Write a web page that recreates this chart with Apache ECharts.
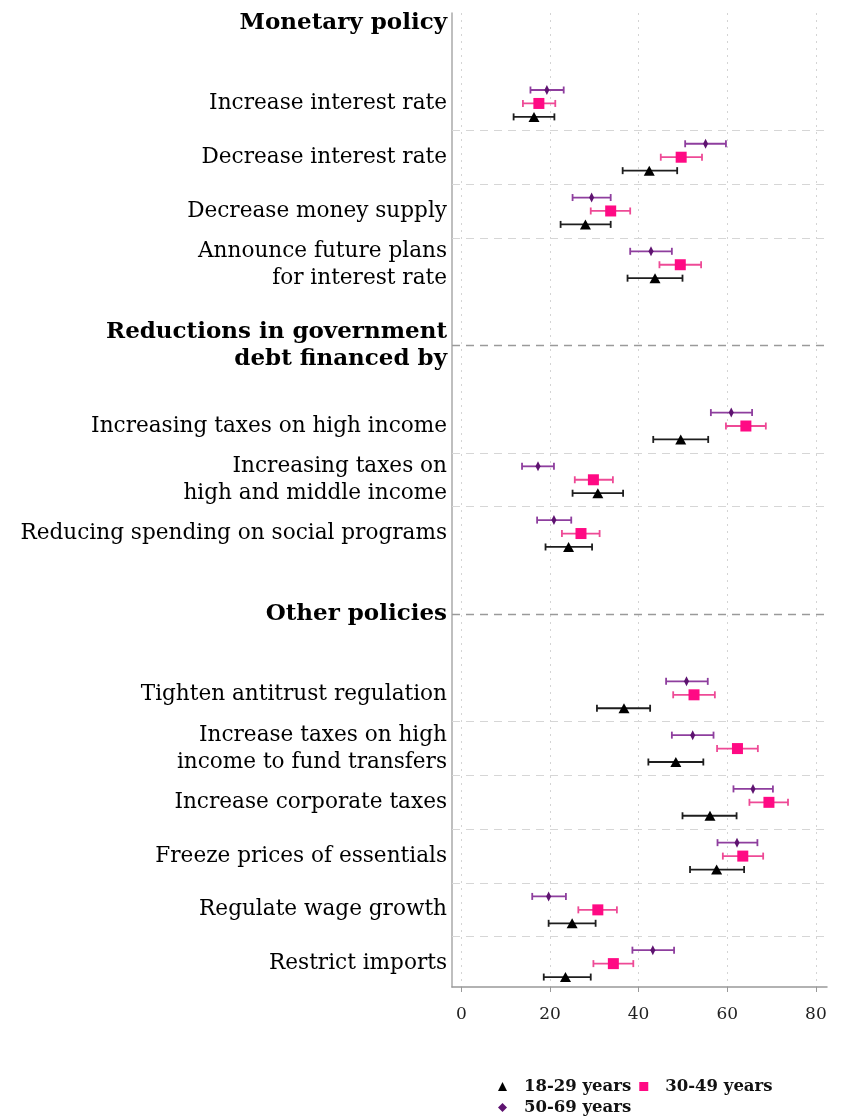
<!DOCTYPE html>
<html>
<head>
<meta charset="utf-8">
<script src="https://cdn.jsdelivr.net/npm/echarts@6/dist/echarts.min.js"></script>
<style>
  html, body { margin: 0; background: #fff; }
  #chart { width: 844px; height: 1117px; }
</style>
</head>
<body>
<div id="chart"></div>
<script>
// groups and items, top to bottom
const groupNames = ['Monetary policy', 'Reductions in government\ndebt financed by', 'Other policies'];
const itemNames = [
  'Increase interest rate',
  'Decrease interest rate',
  'Decrease money supply',
  'Announce future plans\nfor interest rate',
  'Increasing taxes on high income',
  'Increasing taxes on\nhigh and middle income',
  'Reducing spending on social programs',
  'Tighten antitrust regulation',
  'Increase taxes on high\nincome to fund transfers',
  'Increase corporate taxes',
  'Freeze prices of essentials',
  'Regulate wage growth',
  'Restrict imports'
];
const itemGroup = [0, 0, 0, 0, 1, 1, 1, 2, 2, 2, 2, 2, 2];
const ageNames = ['18-29 years', '30-49 years', '50-69 years'];

// 18-29 years
const mean18 = [16.4, 42.4, 28.0, 43.7, 49.5, 30.8, 24.2, 36.7, 48.4, 56.1, 57.6, 25.0, 23.5];
const low18 = [11.8, 36.4, 22.4, 37.5, 43.3, 25.1, 19.0, 30.6, 42.2, 49.9, 51.6, 19.7, 18.6];
const high18 = [21.0, 48.7, 33.7, 49.9, 55.7, 36.5, 29.5, 42.6, 54.6, 62.1, 63.8, 30.3, 29.2];
// 30-49 years
const mean30 = [17.5, 49.6, 33.7, 49.4, 64.2, 29.8, 27.0, 52.5, 62.3, 69.4, 63.5, 30.8, 34.3];
const low30 = [13.9, 45.0, 29.2, 44.7, 59.7, 25.6, 22.7, 47.8, 57.7, 65.0, 59.0, 26.4, 29.8];
const high30 = [21.2, 54.3, 38.1, 54.1, 68.7, 34.2, 31.2, 57.2, 66.9, 73.7, 68.1, 35.1, 38.8];
// 50-69 years
const mean50 = [19.3, 55.1, 29.4, 42.8, 60.9, 17.3, 20.9, 50.8, 52.2, 65.8, 62.2, 19.7, 43.2];
const low50 = [15.6, 50.5, 25.1, 38.1, 56.3, 13.7, 17.1, 46.2, 47.5, 61.4, 57.8, 16.0, 38.6];
const high50 = [23.1, 59.7, 33.7, 47.5, 65.6, 20.9, 24.8, 55.6, 56.9, 70.3, 66.8, 23.6, 48.0];

const xTicks = [0, 20, 40, 60, 80];

const serif = 'DejaVu Serif';
const xMin = -2.1;

// each item takes 4 rows (50-69, 30-49, 18-29, gap); each new group adds 8 rows
function rowOf(i) {
  return i * 4 + itemGroup[i] * 8;
}
function headerRow(g) {
  return rowOf(itemGroup.indexOf(g)) - 5;
}

function errorBar(color) {
  return function (params, api) {
    const y = api.value(2);
    const a = api.coord([api.value(0), y]);
    const b = api.coord([api.value(1), y]);
    const h = 3.5;
    const style = { stroke: color, lineWidth: 1.8 };
    return {
      type: 'group',
      children: [
        { type: 'line', shape: { x1: a[0], y1: a[1], x2: b[0], y2: b[1] }, style: style },
        { type: 'line', shape: { x1: a[0], y1: a[1] - h, x2: a[0], y2: a[1] + h }, style: style },
        { type: 'line', shape: { x1: b[0], y1: b[1] - h, x2: b[0], y2: b[1] + h }, style: style }
      ]
    };
  };
}

const ages = [
  { name: ageNames[0], mean: mean18, low: low18, high: high18, offset: 2, color: '#000000', bar: '#1e1e1e', symbol: 'triangle', size: [11, 10] },
  { name: ageNames[1], mean: mean30, low: low30, high: high30, offset: 1, color: '#FF0A84', bar: '#EE4A96', symbol: 'rect', size: 11 },
  { name: ageNames[2], mean: mean50, low: low50, high: high50, offset: 0, color: '#5E1370', bar: '#8E3E9E', symbol: 'diamond', size: [5, 10] }
];

// separators between items (light) and between groups (darker)
const sepLines = [];
itemGroup.forEach((g, i) => {
  if (i < itemGroup.length - 1 && itemGroup[i + 1] === g) {
    sepLines.push({ yAxis: rowOf(i) + 3, lineStyle: { color: '#d6d6d6', type: [8, 6], width: 1.2 } });
  }
});
for (let g = 1; g < groupNames.length; g++) {
  sepLines.push({ yAxis: headerRow(g), lineStyle: { color: '#9a9a9a', type: [8, 6], width: 1.3 } });
}

const series = [];
ages.forEach(a => {
  series.push({
    type: 'custom',
    renderItem: errorBar(a.bar),
    encode: { x: [0, 1], y: 2 },
    data: itemNames.map((n, i) => [a.low[i], a.high[i], rowOf(i) + a.offset]),
    silent: true,
    z: 2
  });
});
ages.forEach(a => {
  series.push({
    name: a.name,
    type: 'scatter',
    symbol: a.symbol,
    symbolSize: a.size,
    itemStyle: { color: a.color, opacity: 1 },
    data: itemNames.map((n, i) => [a.mean[i], rowOf(i) + a.offset]),
    z: 3
  });
});

// item labels
series.push({
  type: 'scatter',
  symbolSize: 0,
  silent: true,
  itemStyle: { opacity: 1 },
  data: itemNames.map((n, i) => [xMin, rowOf(i) + 1, n]),
  label: {
    show: true,
    position: 'left',
    distance: 5,
    formatter: p => p.data[2],
    color: '#000',
    fontFamily: serif,
    fontSize: 21.6,
    lineHeight: 27
  },
  markLine: {
    silent: true,
    symbol: 'none',
    label: { show: false },
    data: sepLines
  }
});
// group headers
series.push({
  type: 'scatter',
  symbolSize: 0,
  silent: true,
  itemStyle: { opacity: 1 },
  data: groupNames.map((n, g) => [xMin, headerRow(g), n]),
  label: {
    show: true,
    position: 'left',
    distance: 5,
    formatter: p => p.data[2],
    color: '#000',
    fontFamily: serif,
    fontWeight: 'bold',
    fontSize: 23,
    lineHeight: 27
  }
});

const chart = echarts.init(document.getElementById('chart'));
chart.setOption({
  animation: false,
  backgroundColor: '#fff',
  grid: { left: 452, right: 17, top: 13, bottom: 130 },
  xAxis: {
    type: 'value',
    min: xMin,
    max: 82.5,
    axisLine: { show: true, onZero: false, lineStyle: { color: '#999', width: 1.5 } },
    axisTick: { show: true, length: 5, customValues: xTicks, lineStyle: { color: '#999' } },
    axisLabel: { customValues: xTicks, color: '#222', fontFamily: serif, fontSize: 17, margin: 19 },
    splitLine: { show: true, lineStyle: { color: '#d4d4d4', type: [2, 5], width: 1 } }
  },
  yAxis: {
    type: 'value',
    inverse: true,
    min: -5.73,
    max: 66.74,
    axisLine: { show: true, onZero: false, lineStyle: { color: '#aaa', width: 1.5 } },
    axisTick: { show: false },
    axisLabel: { show: false },
    splitLine: { show: false }
  },
  legend: {
    data: [
      { name: ageNames[0], icon: 'triangle' },
      { name: ageNames[1], icon: 'rect' },
      { name: ageNames[2], icon: 'diamond' }
    ],
    left: 493,
    top: 1073,
    width: 285,
    itemWidth: 9,
    itemHeight: 9,
    itemGap: 4,
    textStyle: { fontFamily: serif, fontWeight: 'bold', fontSize: 16.5, lineHeight: 12, color: '#111', padding: [0, 4, 0, 12] }
  },
  series: series
});
</script>
</body>
</html>
